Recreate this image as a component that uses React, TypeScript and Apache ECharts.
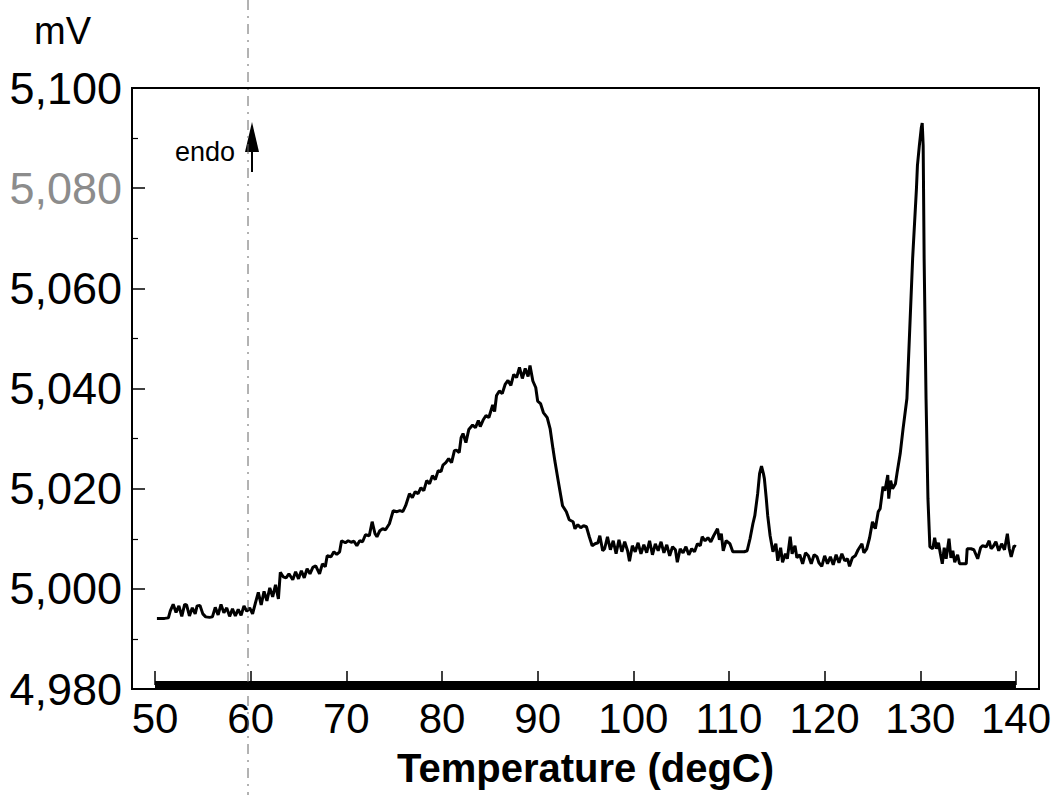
import React, { useEffect, useRef } from "react";
import * as echarts from "echarts";

// Temperature (degC) / signal (mV) pairs
const baselineRise: [number, number][] = [
  [50.2, 4994.1], [51.0, 4994.1], [51.4, 4994.2], [51.6, 4995.6], [51.9, 4996.9], [52.2, 4995.3],
  [52.5, 4996.6], [52.8, 4994.5], [53.1, 4996.9], [53.3, 4996.8], [53.6, 4994.6], [53.9, 4996.2],
  [54.2, 4995.0], [54.4, 4996.6], [54.7, 4996.7], [55.0, 4995.0], [55.3, 4994.4], [55.7, 4994.3],
  [56.0, 4994.4], [56.3, 4996.3], [56.6, 4994.8], [56.9, 4996.9], [57.2, 4995.2], [57.5, 4996.2],
  [57.8, 4994.5], [58.1, 4996.0], [58.4, 4994.6], [58.7, 4995.9], [59.0, 4994.7], [59.3, 4996.6],
  [59.6, 4995.5], [59.9, 4996.2], [60.2, 4995.0], [60.5, 4997.2], [60.8, 4999.3], [61.1, 4996.8],
  [61.4, 4999.5], [61.7, 4997.6], [62.0, 5000.2], [62.3, 4998.4], [62.6, 5000.8], [62.9, 4998.0],
  [63.1, 5003.3], [63.4, 5002.4], [63.7, 5002.2], [64.0, 5003.0], [64.4, 5001.8], [64.7, 5003.4],
  [65.0, 5002.0], [65.3, 5003.6], [65.6, 5002.2], [65.9, 5004.0], [66.2, 5003.0], [66.5, 5004.3],
  [66.8, 5004.6], [67.2, 5003.0], [67.5, 5005.0], [67.8, 5004.4], [68.0, 5006.6], [68.4, 5006.4],
  [68.7, 5007.4], [69.0, 5006.9], [69.3, 5007.4], [69.5, 5009.6], [69.9, 5009.2], [70.2, 5009.6],
  [70.5, 5009.3], [70.8, 5009.5], [71.1, 5008.6], [71.4, 5009.6], [71.7, 5009.4], [72.0, 5010.8],
  [72.4, 5010.6], [72.7, 5013.4], [73.0, 5011.0], [73.2, 5010.4], [73.5, 5011.6], [73.8, 5012.0],
  [74.1, 5011.8], [74.5, 5013.0], [74.9, 5015.6], [75.3, 5015.4], [75.6, 5015.6], [75.9, 5015.4],
];

const broadHump: [number, number][] = [
  [76.2, 5016.6], [76.6, 5019.0], [76.9, 5018.2], [77.2, 5019.4], [77.5, 5019.0], [77.8, 5020.2],
  [78.1, 5019.6], [78.4, 5021.6], [78.7, 5021.0], [79.0, 5022.6], [79.3, 5021.8], [79.6, 5023.6],
  [79.9, 5023.4], [80.1, 5024.7], [80.4, 5025.2], [80.7, 5026.0], [81.0, 5025.2], [81.3, 5027.6],
  [81.5, 5027.7], [81.8, 5027.2], [82.0, 5030.2], [82.2, 5031.0], [82.5, 5029.2], [82.8, 5031.8],
  [83.2, 5032.7], [83.5, 5032.2], [83.8, 5033.6], [84.0, 5032.4], [84.3, 5033.7], [84.6, 5034.6],
  [84.9, 5034.2], [85.3, 5036.7], [85.5, 5035.4], [85.7, 5038.6], [86.0, 5039.5], [86.3, 5039.0],
  [86.6, 5040.8], [86.9, 5041.6], [87.2, 5040.6], [87.5, 5042.8], [87.8, 5042.2], [88.1, 5044.2],
  [88.4, 5042.0], [88.7, 5044.0], [89.0, 5042.4], [89.2, 5044.6], [89.5, 5041.5], [89.8, 5040.2],
  [90.0, 5037.5], [90.3, 5037.0], [90.6, 5035.2], [91.0, 5034.2], [91.3, 5032.0], [91.6, 5028.0],
  [91.8, 5025.5], [92.2, 5021.0], [92.6, 5016.6], [93.0, 5015.4], [93.3, 5013.8], [93.7, 5013.4],
  [93.9, 5012.0], [94.2, 5012.8], [94.5, 5012.2], [94.8, 5012.6], [95.1, 5012.4], [95.4, 5010.4],
  [95.7, 5008.6], [96.0, 5009.0], [96.3, 5009.2], [96.5, 5010.6], [96.8, 5007.6],
];

const plateauAndSmallPeak: [number, number][] = [
  [97.0, 5008.0], [97.3, 5010.4], [97.6, 5007.8], [97.9, 5009.6], [98.2, 5007.0], [98.5, 5009.8],
  [98.8, 5007.4], [99.1, 5009.4], [99.4, 5007.6], [99.6, 5005.5], [99.9, 5008.6], [100.2, 5007.4],
  [100.5, 5009.2], [100.8, 5007.0], [101.1, 5008.8], [101.4, 5007.2], [101.7, 5009.6], [102.0, 5006.8],
  [102.3, 5009.0], [102.6, 5007.6], [102.9, 5009.4], [103.2, 5007.2], [103.5, 5008.8], [103.8, 5006.6],
  [104.1, 5008.4], [104.4, 5007.8], [104.6, 5005.3], [104.9, 5008.0], [105.2, 5007.2], [105.5, 5008.4],
  [105.8, 5006.8], [106.1, 5008.0], [106.4, 5007.4], [106.7, 5009.0], [107.0, 5008.6], [107.2, 5010.4],
  [107.5, 5009.6], [107.8, 5010.2], [108.1, 5009.4], [108.4, 5010.6], [108.8, 5012.0], [109.0, 5009.8],
  [109.2, 5011.0], [109.4, 5007.6], [109.7, 5009.6], [110.1, 5009.0], [110.4, 5007.4], [110.8, 5007.4],
  [111.2, 5007.4], [111.6, 5007.4], [111.9, 5007.6], [112.2, 5010.0], [112.5, 5013.0], [112.7, 5014.6],
  [113.0, 5019.0], [113.2, 5023.0], [113.4, 5024.5], [113.6, 5023.0], [113.7, 5022.0], [113.9, 5018.0],
  [114.05, 5014.6], [114.3, 5010.6], [114.6, 5007.4], [114.9, 5009.0], [115.1, 5005.6], [115.4, 5008.2],
  [115.6, 5005.3], [115.9, 5007.0], [116.1, 5006.0], [116.4, 5010.4], [116.6, 5007.0], [116.9, 5008.6],
  [117.1, 5006.2], [117.4, 5006.8], [117.7, 5005.0], [118.0, 5007.2], [118.3, 5006.6], [118.6, 5005.0],
  [118.9, 5006.8], [119.2, 5006.4], [119.4, 5005.2], [119.7, 5004.5], [120.0, 5006.6], [120.3, 5005.0],
  [120.6, 5006.4], [120.9, 5004.8], [121.2, 5006.8], [121.5, 5005.2], [121.8, 5007.0], [122.1, 5005.6],
  [122.4, 5006.0], [122.6, 5004.5], [122.9, 5006.2], [123.2, 5006.6], [123.5, 5007.8],
];

const meltPeak: [number, number][] = [
  [123.9, 5009.0], [124.1, 5007.2], [124.4, 5008.0], [124.7, 5010.2], [125.0, 5013.4], [125.3, 5012.0],
  [125.6, 5015.4], [125.8, 5016.0], [126.1, 5020.4], [126.3, 5019.6], [126.6, 5022.7], [126.7, 5018.0],
  [126.9, 5021.6], [127.1, 5020.0], [127.4, 5021.0], [127.6, 5023.5], [127.9, 5027.0], [128.2, 5032.0],
  [128.6, 5038.0], [128.9, 5052.0], [129.2, 5066.0], [129.6, 5080.0], [129.7, 5084.5], [129.9, 5088.5],
  [130.1, 5092.0], [130.2, 5093.0], [130.3, 5088.5], [130.4, 5066.0], [130.6, 5038.0], [130.8, 5018.0],
  [131.0, 5008.4], [131.3, 5008.0], [131.5, 5010.2], [131.7, 5008.0], [131.9, 5009.2], [132.1, 5007.0],
  [132.3, 5005.0], [132.5, 5008.2], [132.7, 5006.0], [133.0, 5010.0], [133.2, 5006.2], [133.4, 5007.6],
  [133.6, 5005.3], [133.9, 5006.8], [134.1, 5005.0], [134.4, 5005.0], [134.8, 5005.0], [134.9, 5008.0],
  [135.3, 5008.0], [135.6, 5007.8], [136.0, 5006.0], [136.3, 5008.2], [136.5, 5008.6], [136.9, 5008.4],
  [137.2, 5009.6], [137.4, 5008.0], [137.6, 5008.4], [137.9, 5009.4], [138.2, 5007.6], [138.5, 5009.0],
  [138.8, 5007.8], [139.1, 5011.0], [139.3, 5008.0], [139.5, 5006.4], [139.8, 5008.6], [140.0, 5008.4],
];

const xMin = 50;
const xMax = 140;
const xStep = 10;
const yMin = 4980;
const yMax = 5100;
const yStep = 20;
const fadedLabels = [5080];

const FONT = "'Liberation Sans', Arial, Helvetica, sans-serif";
const W = 1054;
const H = 795;

export default function App() {
  const ref = useRef<HTMLDivElement>(null);

  useEffect(() => {
    if (!ref.current) return;
    const chart = echarts.init(ref.current, undefined, { renderer: "svg", width: W, height: H });
    const curve = [...baselineRise, ...broadHump, ...plateauAndSmallPeak, ...meltPeak];

    chart.setOption({
      animation: false,
      backgroundColor: "#ffffff",
      grid: { left: 155, right: 38, top: 88, bottom: 106, containLabel: false },
      xAxis: {
        type: "value",
        min: xMin,
        max: xMax,
        interval: xStep,
        offset: -4,
        name: "Temperature (degC)",
        nameLocation: "middle",
        nameGap: 63,
        nameTextStyle: { fontFamily: FONT, fontSize: 40, fontWeight: "bold", color: "#000" },
        axisLine: { show: true, lineStyle: { color: "#000", width: 9, cap: "butt" } },
        axisTick: { show: true, inside: true, length: 14, lineStyle: { color: "#000", width: 1.5 } },
        axisLabel: { fontFamily: FONT, fontSize: 42, color: "#000", margin: 12 },
        splitLine: { show: false },
      },
      yAxis: {
        type: "value",
        min: yMin,
        max: yMax,
        interval: yStep,
        offset: 23,
        axisLine: { show: false },
        axisTick: { show: true, inside: true, length: 13, lineStyle: { color: "#000", width: 1.5 } },
        minorTick: { show: true, splitNumber: 2, length: 6, lineStyle: { color: "#000", width: 1.2 } },
        axisLabel: {
          fontFamily: FONT,
          fontSize: 45,
          margin: 10,
          formatter: (v: number) => v.toLocaleString("en-US"),
          color: (v: any) => (fadedLabels.includes(Number(v)) ? "#8c8c8c" : "#000"),
        },
        splitLine: { show: false },
      },
      graphic: [
        {
          type: "rect",
          shape: { x: 132, y: 88, width: 907, height: 601 },
          style: { fill: "none", stroke: "#000", lineWidth: 2 },
          z: 10,
        },
        {
          type: "line",
          shape: { x1: 248, y1: 0, x2: 248, y2: 795 },
          style: { stroke: "#666", lineWidth: 1, lineDash: [10, 6, 2, 6] },
          z: 5,
        },
        {
          type: "text",
          x: 34,
          y: 12,
          style: { text: "mV", fontFamily: FONT, fontSize: 38, fill: "#000" },
        },
        {
          type: "text",
          x: 175,
          y: 138,
          style: { text: "endo", fontFamily: FONT, fontSize: 27, fill: "#000" },
        },
        {
          type: "polygon",
          shape: { points: [[245, 152], [259, 152], [252, 122]] },
          style: { fill: "#000" },
        },
        {
          type: "line",
          shape: { x1: 252, y1: 150, x2: 252, y2: 172 },
          style: { stroke: "#000", lineWidth: 2 },
        },
      ],
      series: [
        {
          type: "line",
          data: curve,
          showSymbol: false,
          symbol: "none",
          lineStyle: { color: "#000", width: 3 },
          z: 3,
        },
      ],
    });

    return () => chart.dispose();
  }, []);

  return (
    <div
      ref={ref}
      style={{ position: "fixed", left: 0, top: 0, width: W, height: H, background: "#fff" }}
    />
  );
}
